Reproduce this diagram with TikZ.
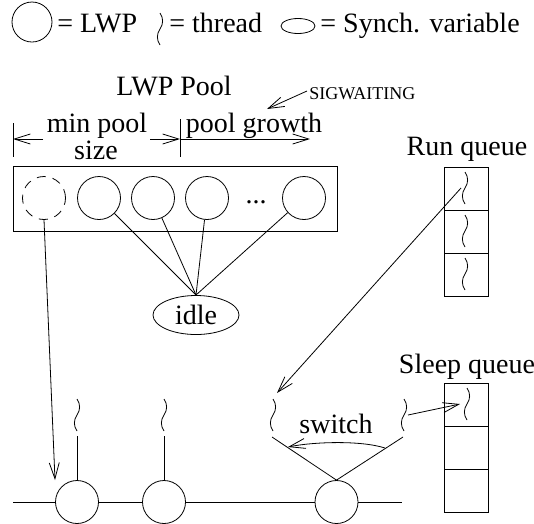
\documentclass[tikz,border=0pt]{standalone}
\usepackage{fontspec}
\setmainfont{Liberation Serif}
\usetikzlibrary{arrows.meta,shapes.geometric}
\tikzset{
  every picture/.style={line width=0.8pt},
  lwp/.style={circle, draw, minimum size=43pt, inner sep=0pt},
  cell/.style={rectangle, draw, minimum width=44pt, minimum height=43pt, inner sep=0pt},
  lbl/.style={font=\fontsize{28}{30}\selectfont, inner sep=0pt},
  small/.style={font=\fontsize{18}{20}\selectfont, inner sep=0pt},
  arr/.style={-{Straight Barb[length=16pt,width=10pt]}},
  thread/.pic={\draw (0,-16) .. controls (3.5,-11) and (3.5,-5) .. (0,0) .. controls (-3.5,5) and (-3.5,11) .. (0,16);}
}
\begin{document}
\begin{tikzpicture}[x=1pt,y=-1pt]
\useasboundingbox (0,0) rectangle (534,523);
% legend
\node[lwp, minimum size=40pt] (legLWP) at (32,22) {};
\node[lbl, anchor=base west] (legLWPt) at (57,32) {= LWP};
\pic at (160,29) {thread};
\node[lbl, anchor=base west] (legThr) at (169,32) {= thread};
\node[ellipse, draw, minimum width=34pt, minimum height=15pt, inner sep=0pt] (legSync) at (298,26) {};
\node[lbl, anchor=base west] (legSyncT) at (320,32) {= Synch. variable};
% pool labels
\node[lbl, anchor=base] (poolT) at (174,95) {LWP Pool};
\node[small, anchor=base west] (sig) at (309,99) {SIGWAITING};
\coordinate (sigS) at (307,91);
\coordinate (sigE) at (267,109);
\draw[arr] (sigS) -- (sigE);
\coordinate (t1a) at (13,123); \coordinate (t1b) at (13,157);
\coordinate (t2a) at (180,119); \coordinate (t2b) at (180,157);
\draw (t1a) -- (t1b);
\draw (t2a) -- (t2b);
\coordinate (d1) at (13,139); \coordinate (d1s) at (43,139);
\coordinate (d2) at (180,139); \coordinate (d2s) at (150,139);
\coordinate (d3) at (310,139);
\draw[arr] (d1s) -- (d1);
\draw[arr] (d2s) -- (d2);
\draw[arr] (d2) -- (d3);
\node[lbl, anchor=base] (minT) at (97,132) {min pool};
\node[lbl, anchor=base] (sizeT) at (96,159) {size};
\node[lbl, anchor=base] (growT) at (254,132) {pool growth};
% pool
\node[draw, rectangle, minimum width=324pt, minimum height=65pt, inner sep=0pt] (pool) at (175,198.5) {};
\node[lwp, dash pattern=on 9pt off 7pt] (p0) at (44,198) {};
\node[lwp] (p1) at (99,198) {};
\node[lwp] (p2) at (153,198) {};
\node[lwp] (p3) at (207,198) {};
\node[lbl, anchor=base] (dots) at (256,203) {...};
\node[lwp] (p4) at (304,198) {};
\node[ellipse, draw, minimum width=86pt, minimum height=39pt, inner sep=0pt, lbl] (idle) at (196,315) {idle};
\coordinate (idleTop) at (196,295);
\foreach \p in {p1,p2,p3,p4} \draw (\p) -- (idleTop);
% run queue
\node[cell] (rq1) at (466,188.5) {};
\node[cell] (rq2) at (466,231.5) {};
\node[cell] (rq3) at (466,274.5) {};
\node[lbl, anchor=base] (rqT) at (467,155) {Run queue};
\pic at (465,188) {thread};
\pic at (465,231) {thread};
\pic at (465,274) {thread};
% sleep queue
\node[cell] (sq1) at (466.5,404.5) {};
\node[cell] (sq2) at (466.5,447.5) {};
\node[cell] (sq3) at (466.5,490.5) {};
\node[lbl, anchor=base] (sqT) at (467,373) {Sleep queue};
\pic at (467,404) {thread};
% bottom LWPs
\node[lwp] (b1) at (77,502) {};
\node[lwp] (b2) at (164,502) {};
\node[lwp] (b3) at (336.5,502) {};
\coordinate (lineL) at (13,502);
\coordinate (lineR) at (402,502);
\draw (lineL) -- (b1) -- (b2) -- (b3) -- (lineR);
\coordinate (v1) at (77,436);
\coordinate (v2) at (164,436);
\draw (v1) -- (b1.north);
\draw (v2) -- (b2.north);
\pic at (77,415) {thread};
\pic at (164,415) {thread};
\coordinate (vL) at (272,437);
\coordinate (vR) at (403,437);
\draw (vL) -- (b3.north) -- (vR);
\pic at (273,415) {thread};
\pic at (404,415) {thread};
% switch
\coordinate (swR) at (385,448);
\coordinate (swL) at (288,447);
\draw[arr] (swR) .. controls (360,440) and (312,442) .. (swL);
\node[lbl, anchor=base] (swT) at (336,433) {switch};
% arrows
\coordinate (dashTip) at (55,480);
\draw[arr] (p0.south) -- (dashTip);
\coordinate (rqS) at (461,188);
\coordinate (rqE) at (277,393);
\draw[arr] (rqS) -- (rqE);
\coordinate (slS) at (408,415);
\coordinate (slE) at (460,404);
\draw[arr] (slS) -- (slE);
\end{tikzpicture}
\end{document}
